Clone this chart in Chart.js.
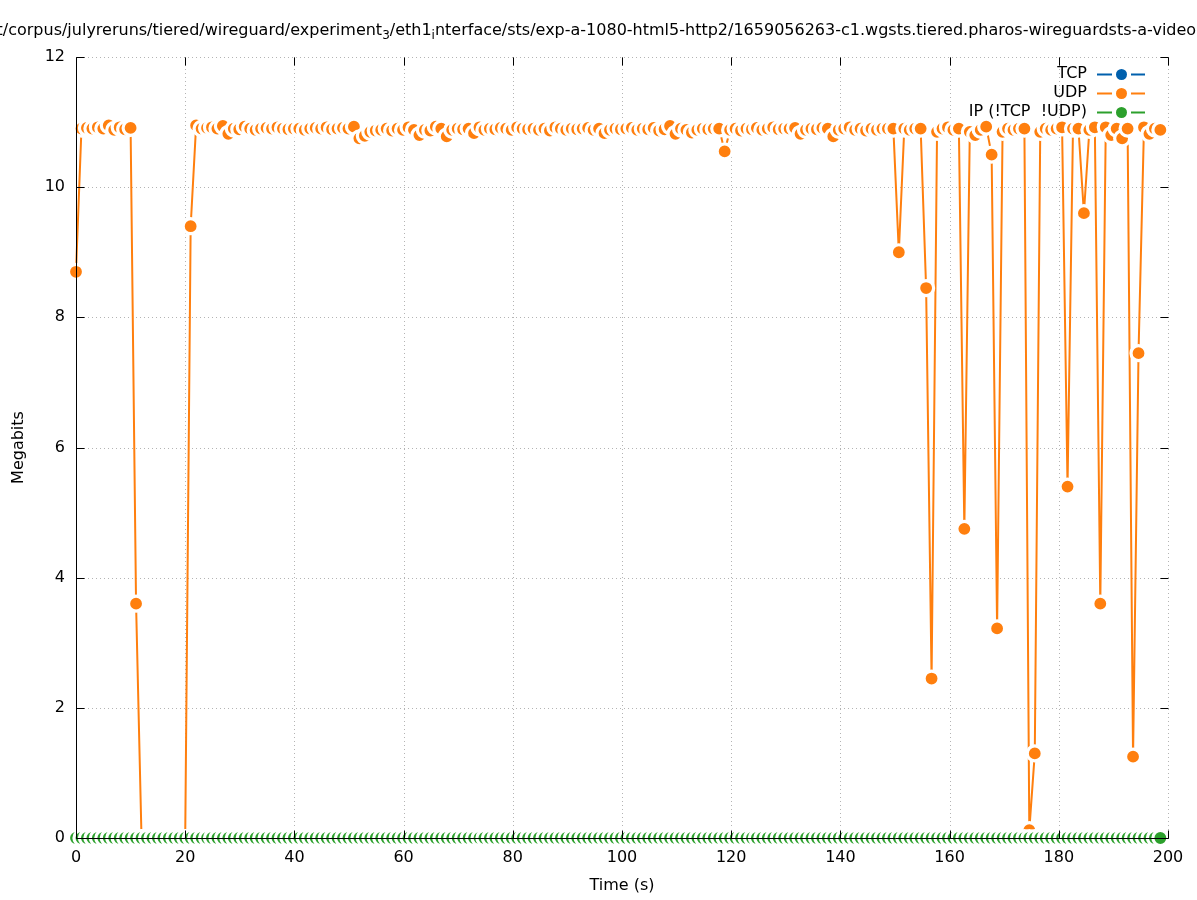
<!DOCTYPE html>
<html>
<head>
<meta charset="utf-8">
<script src="https://cdn.jsdelivr.net/npm/chart.js@4.4.1/dist/chart.umd.min.js"></script>
<style>
  html, body { margin: 0; padding: 0; background: #ffffff; }
  #wrap { width: 1197px; height: 900px; position: relative; }
</style>
</head>
<body>
<div id="wrap"><canvas id="c" width="1197" height="900"></canvas></div>
<script>
// ---- data ----
const times = [
  0,1,2,3,4,5,6,7,8,9,10,11,12,13,14,15,16,17,18,19,
  20,21,22,23,24,24.9,25.9,26.9,27.9,28.9,29.9,30.9,31.9,32.9,33.9,34.9,35.9,36.9,37.9,38.9,
  39.9,40.9,41.9,42.9,43.9,44.9,45.9,46.9,47.9,48.9,49.9,50.9,51.9,52.9,53.9,54.9,55.9,56.9,57.9,58.9,
  59.9,60.9,61.9,62.9,63.9,64.9,65.9,66.9,67.9,68.9,69.9,70.9,71.9,72.9,73.9,74.8,75.8,76.8,77.8,78.8,
  79.8,80.8,81.8,82.8,83.8,84.8,85.8,86.8,87.8,88.8,89.8,90.8,91.8,92.8,93.8,94.8,95.8,96.8,97.8,98.8,
  99.8,100.8,101.8,102.8,103.8,104.8,105.8,106.8,107.8,108.8,109.8,110.8,111.8,112.8,113.8,114.8,115.8,116.8,117.8,118.8,
  119.8,120.8,121.8,122.8,123.8,124.7,125.7,126.7,127.7,128.7,129.7,130.7,131.7,132.7,133.7,134.7,135.7,136.7,137.7,138.7,
  139.7,140.7,141.7,142.7,143.7,144.7,145.7,146.7,147.7,148.7,149.7,150.7,151.7,152.7,153.7,154.7,155.7,156.7,157.7,158.7,
  159.7,160.7,161.7,162.7,163.7,164.7,165.7,166.7,167.7,168.7,169.7,170.7,171.7,172.7,173.7,174.6,175.6,176.6,177.6,178.6,
  179.6,180.6,181.6,182.6,183.6,184.6,185.6,186.6,187.6,188.6,189.6,190.6,191.6,192.6,193.6,194.6,195.6,196.6,197.6,198.6
];
const tcpMbits = [
  0,0,0,0,0,0,0,0,0,0,0,0,0,0,0,0,0,0,0,0,
  0,0,0,0,0,0,0,0,0,0,0,0,0,0,0,0,0,0,0,0,
  0,0,0,0,0,0,0,0,0,0,0,0,0,0,0,0,0,0,0,0,
  0,0,0,0,0,0,0,0,0,0,0,0,0,0,0,0,0,0,0,0,
  0,0,0,0,0,0,0,0,0,0,0,0,0,0,0,0,0,0,0,0,
  0,0,0,0,0,0,0,0,0,0,0,0,0,0,0,0,0,0,0,0,
  0,0,0,0,0,0,0,0,0,0,0,0,0,0,0,0,0,0,0,0,
  0,0,0,0,0,0,0,0,0,0,0,0,0,0,0,0,0,0,0,0,
  0,0,0,0,0,0,0,0,0,0,0,0,0,0,0,0,0,0,0,0,
  0,0,0,0,0,0,0,0,0,0,0,0,0,0,0,0,0,0,0,0
];
const udpMbits = [
  8.7,10.9,10.91,10.9,10.92,10.9,10.95,10.88,10.92,10.89,
  10.91,3.6,0,0,0,0,0,0,0,0,
  0,9.4,10.95,10.9,10.91,10.92,10.9,10.94,10.82,10.9,
  10.89,10.93,10.9,10.88,10.9,10.91,10.9,10.92,10.9,10.89,
  10.9,10.9,10.88,10.9,10.91,10.9,10.92,10.89,10.9,10.91,
  10.9,10.93,10.75,10.79,10.85,10.87,10.88,10.9,10.87,10.9,
  10.88,10.92,10.88,10.8,10.88,10.87,10.93,10.9,10.78,10.88,
  10.9,10.89,10.9,10.83,10.92,10.88,10.9,10.89,10.91,10.9,
  10.88,10.92,10.9,10.89,10.9,10.88,10.9,10.87,10.92,10.9,
  10.88,10.9,10.89,10.9,10.91,10.88,10.9,10.83,10.88,10.9,
  10.89,10.9,10.91,10.88,10.9,10.89,10.91,10.87,10.89,10.94,
  10.82,10.9,10.88,10.84,10.88,10.9,10.89,10.9,10.9,10.55,
  10.88,10.9,10.87,10.9,10.89,10.91,10.88,10.9,10.92,10.89,
  10.9,10.9,10.91,10.82,10.88,10.9,10.89,10.91,10.9,10.78,
  10.88,10.9,10.92,10.88,10.9,10.87,10.9,10.88,10.9,10.9,
  10.9,9.0,10.9,10.88,10.9,10.9,8.45,2.45,10.85,10.9,
  10.92,10.88,10.9,4.75,10.85,10.8,10.88,10.93,10.5,3.22,
  10.85,10.9,10.88,10.9,10.9,0.12,1.3,10.85,10.9,10.88,
  10.9,10.92,5.4,10.9,10.9,9.6,10.88,10.92,3.6,10.92,
  10.8,10.9,10.75,10.9,1.25,7.45,10.92,10.82,10.9,10.88
];
const ipMbits = [
  0,0,0,0,0,0,0,0,0,0,0,0,0,0,0,0,0,0,0,0,
  0,0,0,0,0,0,0,0,0,0,0,0,0,0,0,0,0,0,0,0,
  0,0,0,0,0,0,0,0,0,0,0,0,0,0,0,0,0,0,0,0,
  0,0,0,0,0,0,0,0,0,0,0,0,0,0,0,0,0,0,0,0,
  0,0,0,0,0,0,0,0,0,0,0,0,0,0,0,0,0,0,0,0,
  0,0,0,0,0,0,0,0,0,0,0,0,0,0,0,0,0,0,0,0,
  0,0,0,0,0,0,0,0,0,0,0,0,0,0,0,0,0,0,0,0,
  0,0,0,0,0,0,0,0,0,0,0,0,0,0,0,0,0,0,0,0,
  0,0,0,0,0,0,0,0,0,0,0,0,0,0,0,0,0,0,0,0,
  0,0,0,0,0,0,0,0,0,0,0,0,0,0,0,0,0,0,0,0
];
const seriesNames = ['TCP', 'UDP', 'IP (!TCP  !UDP)'];
const seriesColors = ['#0060ad', '#ff7f0e', '#2ca02c'];
const xTickValues = [0, 20, 40, 60, 80, 100, 120, 140, 160, 180, 200];
const yTickValues = [0, 2, 4, 6, 8, 10, 12];
const titleParts = [
  { text: 't/corpus/julyreruns/tiered/wireguard/experiment', sub: false },
  { text: '3', sub: true },
  { text: '/eth1', sub: false },
  { text: 'i', sub: true },
  { text: 'nterface/sts/exp-a-1080-html5-http2/1659056263-c1.wgsts.tiered.pharos-wireguardsts-a-video', sub: false }
];
const xTitle = 'Time (s)';
const yTitle = 'Megabits';

// ---- chart ----
const FONT = "'DejaVu Sans', 'Liberation Sans', sans-serif";
Chart.defaults.font.family = FONT;
Chart.defaults.font.size = 16;
Chart.defaults.color = '#000000';

function pts(vals) { return times.map((t, i) => ({ x: t, y: vals[i] })); }

function mkDataset(idx, vals, order) {
  return {
    label: seriesNames[idx],
    data: pts(vals),
    borderColor: seriesColors[idx],
    backgroundColor: seriesColors[idx],
    borderWidth: 2,
    pointRadius: 7.5,
    pointHoverRadius: 7.5,
    pointBorderWidth: 3.2,
    pointBorderColor: '#ffffff',
    pointBackgroundColor: seriesColors[idx],
    tension: 0,
    clip: false,
    order: order
  };
}

const gridPlugin = {
  id: 'gpGrid',
  beforeDatasetsDraw(chart) {
    const { ctx, chartArea: a, scales: { x, y } } = chart;
    ctx.save();
    ctx.strokeStyle = '#b4b4b4';
    ctx.lineWidth = 1;
    ctx.setLineDash([1, 3]);
    xTickValues.forEach(v => {
      if (v === 0) return;
      const px = Math.round(x.getPixelForValue(v)) + 0.5;
      ctx.beginPath(); ctx.moveTo(px, a.bottom); ctx.lineTo(px, a.top); ctx.stroke();
    });
    yTickValues.forEach(v => {
      if (v === 0) return;
      const py = Math.round(y.getPixelForValue(v)) + 0.5;
      ctx.beginPath(); ctx.moveTo(a.left, py); ctx.lineTo(a.right, py); ctx.stroke();
    });
    ctx.restore();
  }
};

const frontPlugin = {
  id: 'gpFront',
  afterDatasetsDraw(chart) {
    const { ctx, chartArea: a, scales: { x, y } } = chart;
    const L = Math.round(a.left) + 0.5, B = Math.round(a.bottom) + 0.5;
    const T = Math.round(a.top) + 0.5, R = Math.round(a.right) + 0.5;
    const tl = 8;
    ctx.save();
    ctx.strokeStyle = '#000000';
    ctx.lineWidth = 1;
    ctx.setLineDash([]);
    ctx.beginPath();
    ctx.moveTo(L, T); ctx.lineTo(L, B); ctx.lineTo(R, B);
    xTickValues.forEach(v => {
      const px = Math.round(x.getPixelForValue(v)) + 0.5;
      ctx.moveTo(px, B); ctx.lineTo(px, B - tl);
      ctx.moveTo(px, T); ctx.lineTo(px, T + tl);
    });
    yTickValues.forEach(v => {
      const py = Math.round(y.getPixelForValue(v)) + 0.5;
      ctx.moveTo(L, py); ctx.lineTo(L + tl, py);
      ctx.moveTo(R, py); ctx.lineTo(R - tl, py);
    });
    ctx.stroke();
    ctx.restore();
  }
};

const textPlugin = {
  id: 'gpText',
  afterDraw(chart) {
    const { ctx, chartArea: a } = chart;
    ctx.save();
    ctx.fillStyle = '#000000';
    // title
    let cx = -3.5;
    titleParts.forEach(p => {
      ctx.font = (p.sub ? '12px ' : '16px ') + FONT;
      ctx.textAlign = 'left';
      ctx.textBaseline = 'alphabetic';
      ctx.fillText(p.text, cx, p.sub ? 39 : 35);
      cx += ctx.measureText(p.text).width;
    });
    // axis titles
    ctx.font = '16px ' + FONT;
    ctx.textAlign = 'center';
    ctx.textBaseline = 'middle';
    ctx.fillText(xTitle, (a.left + a.right) / 2, 886);
    ctx.save();
    ctx.translate(19, (a.top + a.bottom) / 2);
    ctx.rotate(-Math.PI / 2);
    ctx.fillText(yTitle, 0, 0);
    ctx.restore();
    // legend
    const rowsY = [74, 93, 112];
    seriesNames.forEach((name, i) => {
      const yy = rowsY[i];
      ctx.font = '16px ' + FONT;
      ctx.textAlign = 'right';
      ctx.textBaseline = 'middle';
      ctx.fillStyle = '#000000';
      ctx.fillText(name, 1087, yy);
      ctx.strokeStyle = seriesColors[i];
      ctx.lineWidth = 2;
      ctx.beginPath();
      ctx.moveTo(1097, yy + 0.5); ctx.lineTo(1112, yy + 0.5);
      ctx.moveTo(1131, yy + 0.5); ctx.lineTo(1145, yy + 0.5);
      ctx.stroke();
      ctx.fillStyle = seriesColors[i];
      ctx.beginPath();
      ctx.arc(1121.5, yy + 0.5, 5.5, 0, Math.PI * 2);
      ctx.fill();
    });
    ctx.restore();
  }
};

new Chart(document.getElementById('c'), {
  type: 'line',
  data: {
    datasets: [
      mkDataset(0, tcpMbits, 3),
      mkDataset(1, udpMbits, 2),
      mkDataset(2, ipMbits, 1)
    ]
  },
  options: {
    responsive: false,
    animation: false,
    events: [],
    layout: { padding: { top: 57, right: 29, left: 0, bottom: 0 } },
    plugins: {
      legend: { display: false },
      title: { display: false },
      tooltip: { enabled: false }
    },
    scales: {
      x: {
        type: 'linear',
        min: 0, max: 200,
        afterFit(s) { s.height = 62; },
        afterBuildTicks(s) { s.ticks = xTickValues.map(v => ({ value: v })); },
        ticks: { padding: 10, maxRotation: 0, color: '#000000', font: { size: 16 } },
        grid: { display: false, drawTicks: false },
        border: { display: false }
      },
      y: {
        type: 'linear',
        min: 0, max: 12,
        afterFit(s) { s.width = 76; },
        afterBuildTicks(s) { s.ticks = yTickValues.map(v => ({ value: v })); },
        ticks: { padding: 11, color: '#000000', font: { size: 16 } },
        grid: { display: false, drawTicks: false },
        border: { display: false }
      }
    }
  },
  plugins: [gridPlugin, frontPlugin, textPlugin]
});
</script>
</body>
</html>
